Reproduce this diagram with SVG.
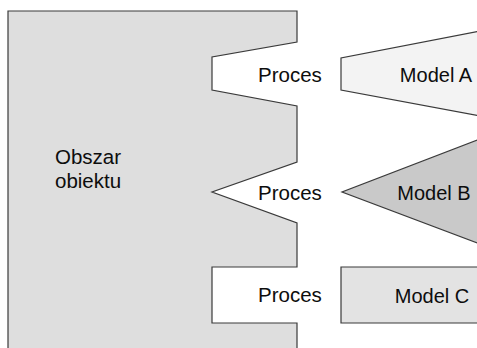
<svg xmlns="http://www.w3.org/2000/svg" width="477" height="348" viewBox="0 0 477 348">
<style>
.shape{stroke:#3a3a3a;stroke-width:1.2;stroke-linejoin:miter}
.t{font-family:"Liberation Sans",Arial,sans-serif;font-size:20.5px;fill:#0d0d0d}
.m{font-size:20px}
.c{text-anchor:middle}
</style>
<rect width="477" height="348" fill="#ffffff"/>
<g id="obszar">
<path class="shape" fill="#dedede" d="M8,360 L8,11 L297,11 L297,42 L212,57 L212,90 L297,106 L297,162 L212,192 L297,223 L297,267 L212,267 L212,323 L297,323 L297,360"/>
<text class="t" x="55" y="164">Obszar</text>
<text class="t" x="55" y="188">obiektu</text>
</g>
<g id="proces1"><text class="t" x="258" y="82">Proces</text></g>
<g id="proces2"><text class="t" x="258" y="200">Proces</text></g>
<g id="proces3"><text class="t" x="258" y="302">Proces</text></g>
<g id="modelA">
<path class="shape" fill="#f3f3f3" d="M480,31 L341,58 L341,90 L480,116"/>
<text class="t m c" x="436" y="82">Model A</text>
</g>
<g id="modelB">
<path class="shape" fill="#c9c9c9" d="M480,139 L342,192 L480,244"/>
<text class="t m c" x="434" y="200">Model B</text>
</g>
<g id="modelC">
<path class="shape" fill="#e3e3e3" d="M480,267 L341,267 L341,323 L480,323"/>
<text class="t m c" x="432" y="303">Model C</text>
</g>
<g id="connectors"></g>
</svg>
